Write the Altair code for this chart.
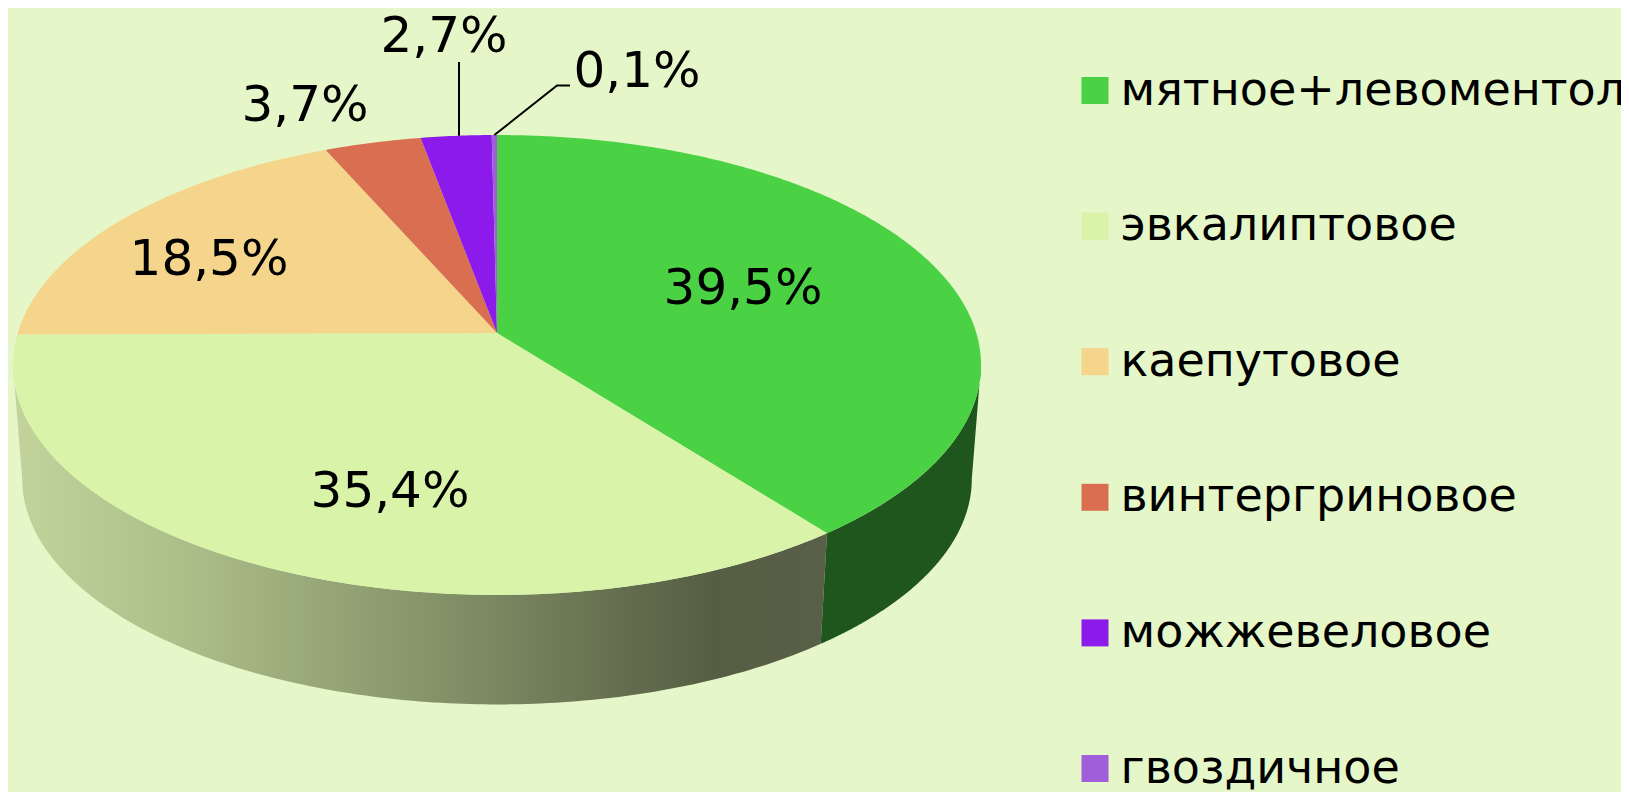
import numpy as np
import pandas as pd
import altair as alt

# ---- chart values ----
names = ["мятное+левоментол", "эвкалиптовое", "каепутовое", "винтергриновое", "можжевеловое", "гвоздичное"]
shares = [39.5, 35.4, 18.5, 3.7, 2.7, 0.1]
labels = ["39,5%", "35,4%", "18,5%", "3,7%", "2,7%", "0,1%"]
colors = ["#4ad144", "#d9f3a9", "#f5d58c", "#d96f50", "#8c1aeb", "#a05fd8"]

# ---- look and placement ----
BG = "#e5f6c8"
FONT = "DejaVu Sans"
SIZE = 50
LEGEND_SIZE = 46
label_x = [743, 390, 209, 305, 444, 637]
label_y = [304, 507, 275, 121, 52, 87]

# perspective disc: ratio k, radii, centre of the top face
CX, CY = 497.0, 333.0
K, RX, RY = 0.139, 479.3, 225.5
DEPTH_Y, SHRINK = 447.5, 0.981
W_PX, H_PX = 1613, 784


def rim(theta_deg, cy=CY, s=1.0):
    t = np.radians(theta_deg)
    w = 1 + K * np.cos(t)
    return CX + s * RX * np.sin(t) / w, cy - s * RY * np.cos(t) / w


edges = np.concatenate([[0], np.cumsum(shares)]) * 3.6
edges[-1] = 360

rows = []
for i, name in enumerate(names):
    th = np.linspace(edges[i], edges[i + 1], max(3, int(edges[i + 1] - edges[i]) * 2))
    xs, ys = rim(th)
    xs = np.concatenate([[CX], xs, [CX]])
    ys = np.concatenate([[CY], ys, [CY]])
    for j, (a, b) in enumerate(zip(xs, ys)):
        rows.append({"name": name, "x": a, "y": b, "o": j})
wedges = pd.DataFrame(rows)


def wall(a, b):
    th = np.linspace(a, b, 160)
    x1, y1 = rim(th)
    x2, y2 = rim(th[::-1], DEPTH_Y, SHRINK)
    x = np.concatenate([x1, x2, x1[:1]])
    y = np.concatenate([y1, y2, y1[:1]])
    return pd.DataFrame({"x": x, "y": y, "o": np.arange(len(x))})


X = alt.X("x:Q", axis=None, scale=alt.Scale(domain=[8, 8 + W_PX]))
Y = alt.Y("y:Q", axis=None, scale=alt.Scale(domain=[8 + H_PX, 8]))
ORD = alt.Order("o:Q")

side_gradient = alt.Gradient(
    gradient="linear", x1=0, x2=1, y1=0, y2=0,
    stops=[
        alt.GradientStop(color="#c2d49c", offset=0),
        alt.GradientStop(color="#aec08a", offset=0.2),
        alt.GradientStop(color="#8b9a6e", offset=0.47),
        alt.GradientStop(color="#646e4f", offset=0.75),
        alt.GradientStop(color="#555e42", offset=0.86),
        alt.GradientStop(color="#5a5f48", offset=1),
    ],
)

wall_light = alt.Chart(wall(edges[1], 262)).mark_line(
    fill=side_gradient, stroke="transparent", strokeWidth=0
).encode(x=X, y=Y, order=ORD)
wall_dark = alt.Chart(wall(98, edges[1])).mark_line(
    fill="#1e561e", stroke="transparent", strokeWidth=0
).encode(x=X, y=Y, order=ORD)

top = alt.Chart(wedges).mark_line(stroke="transparent", strokeWidth=0).encode(
    x=X, y=Y, order=ORD,
    fill=alt.Fill(
        "name:N",
        scale=alt.Scale(domain=names, range=colors),
        legend=alt.Legend(
            orient="none", legendX=1064, legendY=59.5, title=None,
            symbolType="square", symbolSize=729, symbolStrokeWidth=0,
            labelFontSize=LEGEND_SIZE, labelFont=FONT, labelColor="black", labelOffset=2.5,
            rowPadding=89.6, padding=0, columnPadding=0, labelLimit=800, symbolOpacity=1,
        ),
    ),
)

# leader lines from the rim of the two smallest slices to their labels
lead_a = rim((edges[4] + edges[5]) / 2)
lead_b = rim((edges[5] + edges[6]) / 2)
leaders = pd.DataFrame({
    "x": [459, 459, lead_b[0], 557, 570],
    "y": [lead_a[1], 62, lead_b[1], 85.5, 85.5],
    "g": [0, 0, 1, 1, 1],
    "o": [0, 1, 0, 1, 2],
})
lines = alt.Chart(leaders).mark_line(color="black", strokeWidth=2).encode(
    x=X, y=Y, order=ORD, detail="g:N"
)

texts = alt.Chart(pd.DataFrame({"t": labels, "x": label_x, "y": label_y})).mark_text(
    font=FONT, fontSize=SIZE, color="black", align="center", baseline="alphabetic"
).encode(x=X, y=Y, text="t:N")

chart = (
    alt.layer(wall_light, wall_dark, top, lines, texts)
    .properties(width=W_PX, height=H_PX, background=BG, padding=0,
                autosize=alt.AutoSizeParams(type="none"))
    .configure_view(stroke=None)
)
chart.save("out.html", embed_options={"renderer": "svg", "actions": False})
